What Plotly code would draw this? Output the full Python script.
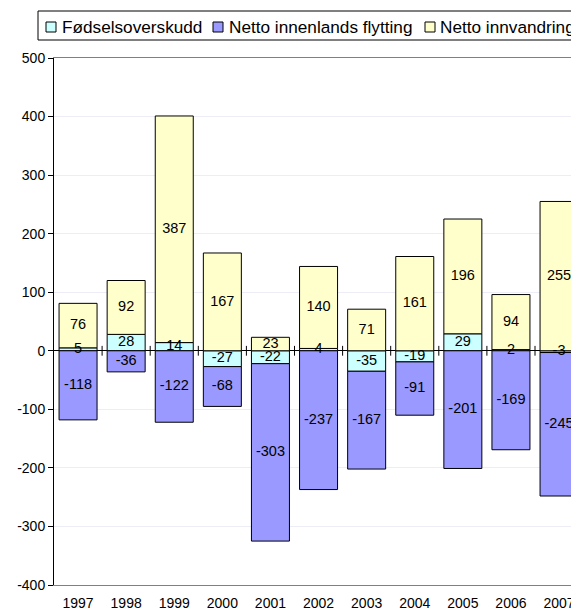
import plotly.graph_objects as go

# Data
years = [1997, 1998, 1999, 2000, 2001, 2002, 2003, 2004, 2005, 2006, 2007]
fodselsoverskudd = [5, 28, 14, -27, -22, 4, -35, -19, 29, 2, -3]
innenlands = [-118, -36, -122, -68, -303, -237, -167, -91, -201, -169, -245]
innvandring = [76, 92, 387, 167, 23, 140, 71, 161, 196, 94, 255]

y_ticks = [500, 400, 300, 200, 100, 0, -100, -200, -300, -400]

series = [
    ('Fødselsoverskudd', fodselsoverskudd, '#CCFFFF'),
    ('Netto innenlands flytting', innenlands, '#9999FF'),
    ('Netto innvandring', innvandring, '#FFFFCC'),
]

FONT = "Liberation Sans, Arial, sans-serif"

# the page body adds an 8px offset, so the figure is drawn 8px smaller
OFF = 8
W, H = 579 - OFF, 612 - OFF
L, T, B = 54 - OFF, 58 - OFF, 27
PW, PH = W - L, H - T - B


# helpers: window pixel -> paper coords
def px_x(px):
    return (px - OFF - L) / PW


def px_y(py):
    return (H - B - (py - OFF)) / PH


fig = go.Figure()

pos_base = [0] * len(years)
neg_base = [0] * len(years)
lab_x, lab_y, lab_t = [], [], []
for name, vals, color in series:
    fig.add_trace(go.Bar(
        x=years,
        y=vals,
        name=name,
        marker=dict(color=color, line=dict(color='black', width=1)),
        width=0.79,
        showlegend=False,
        hoverinfo='x+y+name',
    ))
    # label in the middle of each stacked segment
    for i, v in enumerate(vals):
        if v >= 0:
            mid = pos_base[i] + v / 2
            pos_base[i] += v
        else:
            mid = neg_base[i] + v / 2
            neg_base[i] += v
        lab_x.append(years[i])
        lab_y.append(mid)
        lab_t.append(str(v))

fig.add_trace(go.Scatter(
    x=lab_x, y=lab_y, text=lab_t,
    mode='text',
    textposition='middle center',
    textfont=dict(family=FONT, size=14.5, color='black'),
    showlegend=False,
    hoverinfo='skip',
    cliponaxis=False,
))

# small tick marks on the zero axis between categories
fig.add_trace(go.Scatter(
    x=[y + 0.5 for y in years[:-1]],
    y=[0] * (len(years) - 1),
    mode='markers',
    marker=dict(symbol='line-ns', size=7, line=dict(color='black', width=1)),
    showlegend=False,
    hoverinfo='skip',
))

# hand-made legend (Excel style, cut at right edge)
shapes = [dict(
    type='rect', xref='paper', yref='paper',
    x0=px_x(38), x1=px_x(595), y0=px_y(40), y1=px_y(11),
    line=dict(color='black', width=1), fillcolor='white', layer='above',
)]
annotations = []
marker_px = [46, 213, 425]
text_px = [60, 227, 438]
for (name, _, color), mx, tx in zip(series, marker_px, text_px):
    shapes.append(dict(
        type='rect', xref='paper', yref='paper',
        x0=px_x(mx), x1=px_x(mx + 10), y0=px_y(32), y1=px_y(22),
        line=dict(color='black', width=1), fillcolor=color, layer='above',
    ))
    annotations.append(dict(
        x=px_x(tx), y=px_y(27), xref='paper', yref='paper',
        xanchor='left', yanchor='middle', showarrow=False,
        text=name, font=dict(family=FONT, size=17.2, color='black'),
    ))

fig.update_layout(
    barmode='relative',
    width=W,
    height=H,
    paper_bgcolor='white',
    plot_bgcolor='white',
    margin=dict(l=L, r=0, t=T, b=B, autoexpand=False),
    font=dict(family=FONT, size=14, color='black'),
    showlegend=False,
    shapes=shapes,
    annotations=annotations,
)

fig.update_xaxes(
    range=[years[0] - 0.5, years[0] - 0.5 + PW / 48.1],
    tickmode='array',
    tickvals=years,
    ticktext=[str(y) for y in years],
    showgrid=False,
    zeroline=False,
    showline=True,
    linecolor='#808080',
    linewidth=1,
    mirror=True,
    ticks='',
    ticklabelstandoff=5,
    tickfont=dict(family=FONT, size=14),
)

fig.update_yaxes(
    range=[-400, 500],
    tickmode='array',
    tickvals=y_ticks,
    ticktext=[str(v) for v in y_ticks],
    showgrid=True,
    gridcolor='#EDEDF8',
    gridwidth=1,
    zeroline=True,
    zerolinecolor='black',
    zerolinewidth=1,
    showline=True,
    linecolor='black',
    linewidth=1,
    ticks='outside',
    ticklen=5,
    tickcolor='black',
    tickfont=dict(family=FONT, size=14),
)

fig.write_html("out.html")
